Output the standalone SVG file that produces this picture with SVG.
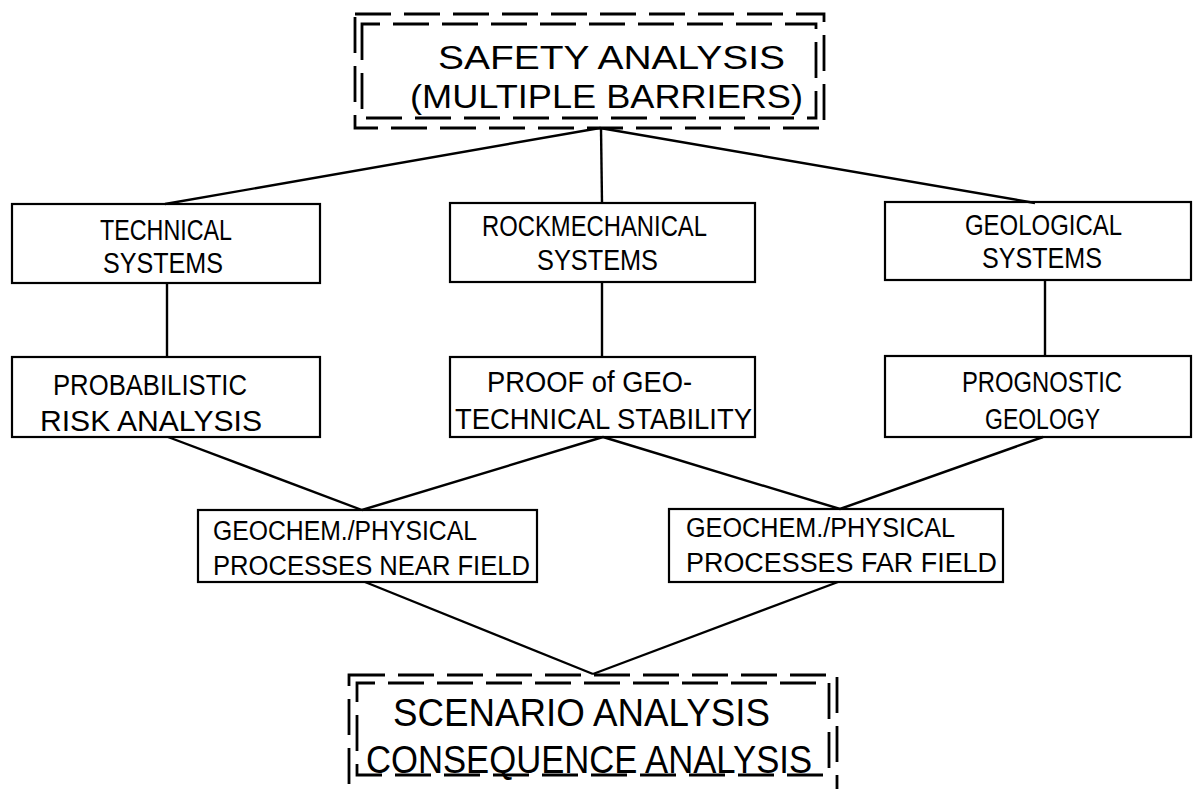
<svg xmlns="http://www.w3.org/2000/svg" width="1193" height="789" viewBox="0 0 1193 789">
<style>
.box{fill:none;stroke:#000;stroke-width:2.2}
.dash{fill:none;stroke:#000;stroke-width:2.8;stroke-dasharray:36 13}
.ln{fill:none;stroke:#000;stroke-width:2.4}
.t{font-family:'Liberation Sans',Arial,sans-serif;font-size:29px;fill:#000}
.m{font-size:27px}
.b{font-size:34px}
.c{font-size:38px}
</style>
<rect width="1193" height="789" fill="#fff"/>
<g id="connectors">
<line class="ln" x1="600" y1="128" x2="165" y2="204"/>
<line class="ln" x1="601" y1="128" x2="602" y2="203"/>
<line class="ln" x1="600" y1="128" x2="1035" y2="203"/>
<line class="ln" x1="167" y1="283" x2="167" y2="357"/>
<line class="ln" x1="602" y1="282" x2="602" y2="357"/>
<line class="ln" x1="1045" y1="280" x2="1045" y2="356"/>
<line class="ln" x1="168" y1="437" x2="362" y2="510"/>
<line class="ln" x1="603" y1="437" x2="362" y2="510"/>
<line class="ln" x1="603" y1="437" x2="840" y2="509"/>
<line class="ln" x1="1043" y1="437" x2="840" y2="509"/>
<line class="ln" x1="365" y1="582" x2="593" y2="674"/>
<line class="ln" x1="838" y1="582" x2="593" y2="674"/>
</g>
<g id="safety">
<rect class="dash" x="355" y="14" width="469" height="114"/>
<rect class="dash" x="362" y="24" width="454" height="94" stroke-dashoffset="18"/>
<text class="t b" x="438" y="69" textLength="347" lengthAdjust="spacingAndGlyphs">SAFETY ANALYSIS</text>
<text class="t b" x="410" y="108" textLength="393" lengthAdjust="spacingAndGlyphs">(MULTIPLE BARRIERS)</text>
</g>
<g id="technical">
<rect class="box" x="12" y="204" width="308" height="79"/>
<text class="t" x="100" y="240" textLength="132" lengthAdjust="spacingAndGlyphs">TECHNICAL</text>
<text class="t" x="103" y="273" textLength="120" lengthAdjust="spacingAndGlyphs">SYSTEMS</text>
</g>
<g id="rockmechanical">
<rect class="box" x="450" y="203" width="305" height="79"/>
<text class="t" x="482" y="236" textLength="225" lengthAdjust="spacingAndGlyphs">ROCKMECHANICAL</text>
<text class="t" x="537" y="270" textLength="121" lengthAdjust="spacingAndGlyphs">SYSTEMS</text>
</g>
<g id="geological">
<rect class="box" x="885" y="202" width="306" height="78"/>
<text class="t" x="965" y="235" textLength="157" lengthAdjust="spacingAndGlyphs">GEOLOGICAL</text>
<text class="t" x="982" y="268" textLength="120" lengthAdjust="spacingAndGlyphs">SYSTEMS</text>
</g>
<g id="probabilistic">
<rect class="box" x="12" y="357" width="308" height="80"/>
<text class="t" x="53" y="395" textLength="194" lengthAdjust="spacingAndGlyphs">PROBABILISTIC</text>
<text class="t" x="40" y="431" textLength="222" lengthAdjust="spacingAndGlyphs">RISK ANALYSIS</text>
</g>
<g id="proof">
<rect class="box" x="450" y="357" width="305" height="80"/>
<text class="t" x="487" y="392" textLength="205" lengthAdjust="spacingAndGlyphs">PROOF of GEO-</text>
<text class="t" x="455" y="429" textLength="297" lengthAdjust="spacingAndGlyphs">TECHNICAL STABILITY</text>
</g>
<g id="prognostic">
<rect class="box" x="885" y="356" width="306" height="81"/>
<text class="t" x="962" y="392" textLength="160" lengthAdjust="spacingAndGlyphs">PROGNOSTIC</text>
<text class="t" x="985" y="429" textLength="115" lengthAdjust="spacingAndGlyphs">GEOLOGY</text>
</g>
<g id="nearfield">
<rect class="box" x="198" y="510" width="339" height="72"/>
<text class="t m" x="213" y="540" textLength="264" lengthAdjust="spacingAndGlyphs">GEOCHEM./PHYSICAL</text>
<text class="t m" x="213" y="575" textLength="317" lengthAdjust="spacingAndGlyphs">PROCESSES NEAR FIELD</text>
</g>
<g id="farfield">
<rect class="box" x="669" y="509" width="334" height="73"/>
<text class="t m" x="686" y="537" textLength="269" lengthAdjust="spacingAndGlyphs">GEOCHEM./PHYSICAL</text>
<text class="t m" x="686" y="572" textLength="311" lengthAdjust="spacingAndGlyphs">PROCESSES FAR FIELD</text>
</g>
<g id="scenario">
<rect class="dash" x="349" y="675" width="488" height="130"/>
<rect class="dash" x="357" y="683" width="472" height="92" stroke-dashoffset="18"/>
<text class="t c" x="393" y="726" textLength="377" lengthAdjust="spacingAndGlyphs">SCENARIO ANALYSIS</text>
<text class="t c" x="366" y="773" textLength="446" lengthAdjust="spacingAndGlyphs">CONSEQUENCE ANALYSIS</text>
</g>
</svg>
